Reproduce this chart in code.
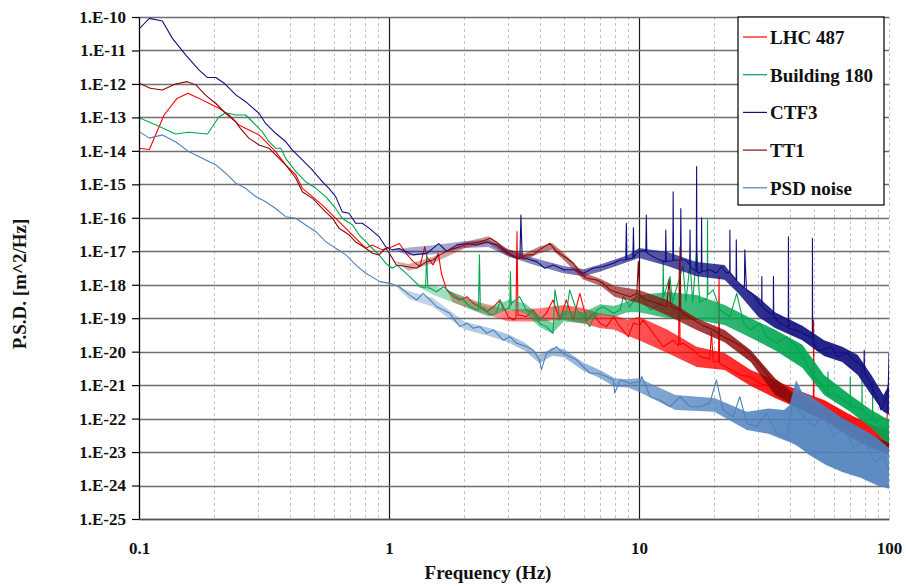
<!DOCTYPE html>
<html>
<head>
<meta charset="utf-8">
<script src="https://cdn.jsdelivr.net/npm/d3@7"></script>
<style>
  body { margin: 0; background: #fff; }
  svg text { font-family: "Liberation Serif", "Times New Roman", serif; font-weight: bold; fill: #111; }
</style>
</head>
<body>
<div id="chart"></div>
<script>
// Series names / colours (legend order = drawing order)
const seriesNames = ["LHC 487", "Building 180", "CTF3", "TT1", "PSD noise"];
const seriesColors = ["#ff0000", "#00a650", "#10107f", "#8a0a0a", "#4f81bd"];

// Axis ticks
const xTicks = [0.1, 1, 10, 100];
const xTickLabels = ["0.1", "1", "10", "100"];
const yTicks = [1e-10, 1e-11, 1e-12, 1e-13, 1e-14, 1e-15, 1e-16, 1e-17, 1e-18, 1e-19, 1e-20, 1e-21, 1e-22, 1e-23, 1e-24, 1e-25];
const yTickLabels = ["1.E-10", "1.E-11", "1.E-12", "1.E-13", "1.E-14", "1.E-15", "1.E-16", "1.E-17",
  "1.E-18", "1.E-19", "1.E-20", "1.E-21", "1.E-22", "1.E-23", "1.E-24", "1.E-25"];

// [frequency Hz, PSD m^2/Hz]
const lhc487 = [[0.1,1.2e-14],[0.11,1.1e-14],[0.126,1.18e-13],[0.142,3.7e-13],[0.157,5.25e-13],[0.174,3.7e-13],[0.191,2.6e-13],[0.209,1.87e-13],[0.229,1.18e-13],[0.251,5.9e-14],[0.275,4.2e-14],[0.302,3e-14],[0.331,1.5e-14],[0.352,9.5e-15],[0.386,3.8e-15],[0.424,1.9e-15],[0.45,7.6e-16],[0.494,4.3e-16],[0.541,2.4e-16],[0.594,1.2e-16],[0.631,7.7e-17],[0.692,3.85e-17],[0.759,1.94e-17],[0.807,1.23e-17],[0.858,1.54e-17],[0.94,1.1e-17],[1.03,1.37e-17],[1.1,1.7e-17],[1.17,8.7e-18],[1.25,4.9e-18],[1.33,3.5e-18],[1.39,1.37e-17],[1.415,6.9e-18],[1.5,3.9e-18],[1.575,8.7e-18],[1.62,2.2e-18],[1.7,7e-19],[1.81,4.4e-19],[1.92,3.5e-19],[2.05,4.4e-19],[2.17,2.8e-19],[2.31,2.2e-19],[2.46,1.56e-19],[2.62,2.2e-19],[2.78,3.5e-19],[3.0,1.1e-19],[3.15,8.8e-20],[3.22,1e-19],[3.25,3.85e-17],[3.28,1.2e-19],[3.33,1.25e-19],[3.54,1.1e-19],[3.77,1.76e-19],[4.0,8.8e-20],[4.26,1.4e-19],[4.53,3.5e-19],[4.82,8.8e-20],[5.12,3.5e-19],[5.45,8.8e-20],[5.8,5.5e-19],[6.18,8.8e-20],[6.56,1.4e-19],[6.98,7.1e-20],[7.42,5.6e-20],[7.9,1.1e-19],[8.4,5.6e-20],[9.06,2.8e-20],[9.5,7.1e-20],[10.1,6.3e-20],[10.4,8.8e-20],[11.4,3.55e-20],[12.5,1.4e-20],[13.7,2.2e-20],[14.4,1.5e-20],[14.5,5e-18],[14.6,1.6e-20],[15.0,1.78e-20],[16.5,1.12e-20],[17.5,7.1e-21],[19.2,6e-21],[19.5,4e-20],[19.8,5e-21],[20.8,5e-21],[20.9,1.75e-18],[21.0,4.5e-21],[23.1,3e-21],[25.3,2e-21],[27.8,1.8e-21],[30.5,1.14e-21],[33.5,9e-22],[36.7,5.7e-22],[40.3,4.5e-22],[44.1,2.9e-22],[48.4,2.27e-22],[49.8,2e-22],[49.9,8.8e-20],[50.1,2e-22],[53.1,1.8e-22],[58.2,1.44e-22],[63.9,7.2e-23],[70,5.75e-23],[76.8,3.65e-23],[84.3,2.3e-23],[92.4,1.83e-23],[97.7,4.6e-23],[100,2e-21]];

const building180 = [[0.1,9.8e-14],[0.117,5.9e-14],[0.14,3.2e-14],[0.158,3.6e-14],[0.188,3.2e-14],[0.209,1.05e-13],[0.222,1.38e-13],[0.244,1.18e-13],[0.267,1.18e-13],[0.293,5.9e-14],[0.311,3.75e-14],[0.331,1.88e-14],[0.352,1.2e-14],[0.369,1.2e-14],[0.386,6e-15],[0.424,2.4e-15],[0.464,1.2e-15],[0.51,7.6e-16],[0.558,4.3e-16],[0.612,1.9e-16],[0.65,9.7e-17],[0.715,6.1e-17],[0.759,3.1e-17],[0.832,1.54e-17],[0.912,7.8e-18],[0.97,4.4e-18],[1.03,3.1e-18],[1.08,3.8e-18],[1.21,1.75e-18],[1.33,8.7e-19],[1.4,8e-19],[1.415,7.8e-18],[1.43,8e-19],[1.46,7.9e-19],[1.55,6.2e-19],[1.65,8.7e-19],[1.75,6.2e-19],[1.86,4.4e-19],[1.98,3.5e-19],[2.11,2.2e-19],[2.24,1.76e-19],[2.28,1.8e-19],[2.3,7.8e-18],[2.32,1.9e-19],[2.39,2e-19],[2.54,1.25e-19],[2.69,1.4e-19],[2.78,3.5e-19],[2.86,1.76e-19],[3.04,2e-19],[3.06,2.46e-18],[3.08,2.5e-19],[3.09,2.8e-19],[3.33,4.4e-19],[3.54,1.76e-19],[3.77,1.4e-19],[4.0,7.1e-20],[4.26,5.6e-20],[4.53,3.55e-20],[4.61,7e-19],[4.82,1.1e-19],[5.12,1.4e-19],[5.28,7e-19],[5.62,1.76e-19],[5.98,1.1e-19],[6.36,5.6e-20],[6.78,1.76e-19],[7.19,2.2e-19],[7.9,1.4e-19],[8.4,1.76e-19],[8.66,4.4e-19],[9.2,2.2e-19],[9.9,5.5e-19],[10.1,4.4e-19],[11.1,1.76e-19],[12.45,3e-19],[12.5,5.5e-18],[12.55,4.4e-19],[13.3,1.75e-18],[13.6,3e-19],[15.0,3.6e-18],[15.4,3e-19],[16.0,4.4e-18],[16.4,3e-19],[17.0,1.1e-17],[17.5,3e-19],[18.75,4e-19],[18.8,8.6e-17],[18.85,5e-19],[19.8,7e-19],[21.1,1.76e-19],[23.1,1.1e-19],[24.6,5.5e-19],[26.2,7.1e-20],[27.8,4.45e-20],[30.5,7.1e-20],[32.4,2.8e-20],[35.5,1.78e-20],[39,2.8e-20],[42.7,1.4e-20],[45.3,7.1e-21],[49.9,1.8e-21],[54.7,9e-22],[56.9,5e-22],[57,2.5e-21],[57.1,5e-22],[59.9,5.7e-22],[65.7,3.6e-22],[69.9,2.5e-22],[70,1.76e-21],[70.1,2.4e-22],[72.1,2.27e-22],[77.9,1.9e-22],[78,4.9e-21],[78.1,1.9e-22],[79,1.8e-22],[85.9,1e-22],[86,1.2e-21],[86.1,9.5e-23],[86.6,9.1e-23],[94.9,5.75e-23],[100,2.3e-23]];

const ctf3 = [[0.1,4.4e-11],[0.11,9.1e-11],[0.124,7.6e-11],[0.136,2.3e-11],[0.154,7.3e-12],[0.174,2.6e-12],[0.188,1.55e-12],[0.203,1.55e-12],[0.219,1.05e-12],[0.244,4.7e-13],[0.267,2.95e-13],[0.302,1.33e-13],[0.321,6.6e-14],[0.352,3.35e-14],[0.386,1.9e-14],[0.41,1.07e-14],[0.45,5.4e-15],[0.493,2.7e-15],[0.541,1.2e-15],[0.575,7.6e-16],[0.612,4.3e-16],[0.65,1.5e-16],[0.692,1.37e-16],[0.736,6.9e-17],[0.782,6.9e-17],[0.832,4.9e-17],[0.912,2.75e-17],[0.97,1.37e-17],[1.03,1.1e-17],[1.1,1.2e-17],[1.25,7.8e-18],[1.42,8.7e-18],[1.58,1.7e-17],[1.7,1.0e-17],[1.87,1.55e-17],[2.05,1.7e-17],[2.24,1.55e-17],[2.46,1.9e-17],[2.7,1.55e-17],[2.96,8.7e-18],[3.24,6.2e-18],[3.34,6.2e-18],[3.37,1.2e-16],[3.41,6.2e-18],[3.5,6.2e-18],[3.9,4.9e-18],[4.2,3.1e-18],[4.54,3.9e-18],[5.0,2.8e-18],[5.5,2.8e-18],[6.0,2.2e-18],[6.55,3.1e-18],[7.2,3.5e-18],[7.9,4.4e-18],[8.4,5.5e-18],[8.85,5.5e-18],[8.9,6.9e-17],[8.95,5.8e-18],[9.45,6.2e-18],[9.5,5e-17],[9.55,6.5e-18],[9.8,8.7e-18],[10.1,1.0e-17],[10.4,1.1e-17],[10.65,1.0e-17],[10.7,1.2e-16],[10.75,9e-18],[11.4,6.9e-18],[12.5,4.9e-18],[12.75,4.9e-18],[12.8,4.3e-17],[12.85,5e-18],[13.65,5.2e-18],[13.7,6e-16],[13.75,5.3e-18],[14.2,5.5e-18],[14.65,5.5e-18],[14.7,1.9e-16],[14.75,5.5e-18],[15.3,5.5e-18],[15.95,4e-18],[16.0,4.3e-17],[16.05,3.5e-18],[16.5,2.8e-18],[16.95,2.6e-18],[17.0,3.4e-15],[17.05,2.5e-18],[17.5,2.2e-18],[17.75,2.4e-18],[17.8,1.0e-16],[17.85,2.5e-18],[19.2,2.8e-18],[20.4,2.2e-18],[21.4,3.5e-18],[22.4,2.2e-18],[23.05,2.4e-18],[23.1,4.3e-17],[23.15,2.3e-18],[24.45,1.4e-18],[24.5,2.2e-17],[24.6,1.3e-18],[26.4,8e-19],[26.5,1.1e-17],[26.9,7e-19],[28.7,5e-19],[30.5,2.5e-19],[30.95,2.4e-19],[31.0,1.75e-18],[31.05,2.2e-19],[32.5,1.6e-19],[33.5,1.4e-19],[34.45,1.3e-19],[34.5,1.75e-18],[34.6,1.1e-19],[36.7,7e-20],[39.0,5.6e-20],[39.55,5.6e-20],[39.6,2.7e-17],[39.7,5e-20],[42.7,4.4e-20],[45.3,3.5e-20],[48.4,2.8e-20],[49.35,2.6e-20],[49.4,2.45e-17],[49.5,2.2e-20],[51.6,1.1e-20],[53.3,1.1e-20],[58.6,1.4e-20],[62,7e-21],[68.1,9e-21],[72.5,5.6e-21],[79.4,3.5e-21],[79.6,1.1e-20],[79.8,2.3e-21],[84.6,1.1e-21],[90,3.6e-22],[93,1.8e-22],[97.4,4.4e-22],[99.4,1.1e-21],[100,9e-21]];

const tt1 = [[0.1,1.05e-12],[0.111,7.4e-13],[0.124,6.6e-13],[0.14,1e-12],[0.156,1.17e-12],[0.169,9.3e-13],[0.184,4.7e-13],[0.203,2.6e-13],[0.222,1.33e-13],[0.244,7.4e-14],[0.251,5.3e-14],[0.275,2.4e-14],[0.302,1.5e-14],[0.331,1.2e-14],[0.352,7.6e-15],[0.386,3.8e-15],[0.424,1.52e-15],[0.45,6e-16],[0.494,3.8e-16],[0.525,2.4e-16],[0.558,1.5e-16],[0.594,9.7e-17],[0.631,4.9e-17],[0.692,3.1e-17],[0.736,1.9e-17],[0.807,1.23e-17],[0.858,8.7e-18],[0.912,7.8e-18],[0.97,1.23e-17],[1.01,8e-18],[1.05,5e-18],[1.07,3.9e-18],[1.17,3.5e-18],[1.29,3.1e-18],[1.415,4.9e-18],[1.5,5.5e-18],[1.595,7.8e-18],[1.75,1.1e-17],[1.92,1.37e-17],[2.11,1.73e-17],[2.31,1.9e-17],[2.54,2.45e-17],[2.69,1.9e-17],[2.86,1.23e-17],[3.09,7.8e-18],[3.33,6.2e-18],[3.54,7.8e-18],[3.77,7.8e-18],[4.0,1.1e-17],[4.4,1.73e-17],[4.68,9.7e-18],[5.14,6.2e-18],[5.47,4.4e-18],[5.81,2.2e-18],[6.18,1.56e-18],[6.78,1.39e-18],[7.19,1.1e-18],[7.66,7e-19],[8.39,5.5e-19],[9.2,4.4e-19],[9.8,5.5e-19],[9.94,4.9e-18],[10.05,5e-19],[10.7,3.5e-19],[11.8,2.8e-19],[12.9,2.2e-19],[13.2,1.4e-18],[13.4,2.2e-19],[14.5,1.8e-19],[14.6,1.37e-17],[14.7,1.6e-19],[15.0,1.4e-19],[16.5,9e-20],[18.1,6e-20],[19.8,4.5e-20],[21.1,3.2e-20],[21.7,2.8e-20],[23.8,2e-20],[26.2,1.3e-20],[28.6,7e-21],[31.4,3e-21],[34.5,1.2e-21],[37.8,6e-22],[41.5,3.6e-22],[45.4,2.6e-22],[49.9,2e-22],[54.7,1.4e-22],[59.9,1e-22],[65.7,6e-23],[72,3.6e-23],[79,2.4e-23],[86.6,2e-23],[94.9,1.2e-23],[100,1.3e-23]];

const psdNoise = [[0.1,3.75e-14],[0.11,2.4e-14],[0.124,3e-14],[0.14,1.88e-14],[0.158,9.5e-15],[0.179,6e-15],[0.203,3.8e-15],[0.222,2.15e-15],[0.244,1.08e-15],[0.267,7.6e-16],[0.293,4.3e-16],[0.321,3e-16],[0.352,1.9e-16],[0.386,1.08e-16],[0.424,9.7e-17],[0.464,6.1e-17],[0.51,3.85e-17],[0.558,1.94e-17],[0.612,1.23e-17],[0.672,7.8e-18],[0.736,3.9e-18],[0.807,2.2e-18],[0.92,1.24e-18],[1.01,1.1e-18],[1.1,8.7e-19],[1.21,4.9e-19],[1.29,3.5e-19],[1.37,5.5e-19],[1.46,3.5e-19],[1.55,2.2e-19],[1.65,1.76e-19],[1.75,1.4e-19],[1.92,5.6e-20],[2.05,7.1e-20],[2.17,5e-20],[2.31,5.6e-20],[2.46,3.55e-20],[2.62,4.45e-20],[2.86,2.2e-20],[3.05,2.8e-20],[3.24,1.78e-20],[3.56,1.4e-20],[3.77,1.12e-20],[4.0,5.7e-21],[4.07,2.85e-21],[4.26,8.9e-21],[4.68,1.4e-20],[4.97,8.9e-21],[5.28,7.1e-21],[5.62,5.7e-21],[5.98,3.6e-21],[6.36,2.27e-21],[6.78,2.27e-21],[7.42,1.8e-21],[7.9,1.43e-21],[8.0,5.7e-22],[8.4,1.43e-21],[9.2,1.14e-21],[10.1,1.27e-21],[10.25,1.8e-21],[11.1,4.5e-22],[12.1,3.6e-22],[13.3,2.27e-22],[14.6,4.5e-22],[16.0,2.27e-22],[17.5,2.27e-22],[19.2,2.9e-22],[20.4,1.43e-21],[21.7,1.8e-22],[23.8,1.14e-22],[25.3,4.5e-22],[27,7.2e-23],[29.5,5.75e-23],[32.4,1.44e-22],[35.5,3.65e-23],[39,2.9e-23],[41.5,3.6e-22],[44.1,1.44e-22],[50,6e-23],[55,1.2e-22],[60,3e-23],[66,5e-23],[72,1.5e-23],[80,2e-23],[88,5e-24],[95,8e-24],[100,3e-24]];

// envelopes of the noisy parts: [frequency, low, high]
const lhc487Band = [[1.7,7e-19,7e-19],[1.8,3e-19,6e-19],[2.3,1.5e-19,3e-19],[3,8e-20,1.8e-19],[4,8e-20,2e-19],[5,9e-20,2.5e-19],[6,7e-20,2e-19],[7,5e-20,1.4e-19],[8,4.5e-20,1.2e-19],[9,3e-20,9e-20],[10,2.2e-20,1.1e-19],[13,9.1e-21,4.5e-20],[17,3.5e-21,1.4e-20],[22,2.85e-21,9.1e-21],[28,9.4e-22,2.85e-21],[35,4.1e-22,1.4e-21],[45,1.8e-22,6.2e-22],[55,9.1e-23,3.6e-22],[70,4e-23,1.3e-22],[85,2e-23,6.5e-23],[100,1.2e-23,4.6e-23]];
const building180Band = [[1.3,9e-19,9e-19],[1.5,5e-19,1e-18],[2,2.2e-19,4.2e-19],[2.5,1.1e-19,2.1e-19],[3,1.8e-19,3.5e-19],[3.5,1.4e-19,2.8e-19],[4,5.5e-20,1.2e-19],[4.5,3.5e-20,7.5e-20],[5,8e-20,1.7e-19],[6,7e-20,1.5e-19],[7,1.3e-19,2.6e-19],[8,1.1e-19,2.3e-19],[9,1.5e-19,3.2e-19],[10,1.5e-19,4.9e-19],[13,1e-19,6.1e-19],[17,8.9e-20,4.9e-19],[22,6.3e-20,2.5e-19],[28,2.6e-20,1e-19],[35,1.1e-20,4.5e-20],[45,3.3e-21,1.6e-20],[55,5.1e-22,2e-21],[70,1.6e-22,5.1e-22],[85,5.2e-23,1.8e-22],[100,1.6e-23,9.1e-23]];
const ctf3Band = [[1.05,1.1e-17,1.1e-17],[1.2,7.5e-18,1.3e-17],[1.5,8e-18,1.5e-17],[2,1.25e-17,2e-17],[2.5,1.35e-17,2.2e-17],[3,7e-18,1.15e-17],[3.5,4.8e-18,7.6e-18],[4,3.5e-18,5.7e-18],[5,2.2e-18,3.6e-18],[6,1.8e-18,2.9e-18],[7,2.5e-18,4e-18],[8,3.5e-18,5.7e-18],[9,4.8e-18,7.6e-18],[10,6.3e-18,1.25e-17],[13,3.6e-18,9.5e-18],[17,1.8e-18,4.8e-18],[22,1.4e-18,3.9e-18],[25,5.5e-19,1.1e-18],[30,1.1e-19,4.3e-19],[35,5.1e-20,1.5e-19],[45,2.2e-20,5.9e-20],[55,7.4e-21,2.2e-20],[65,4.9e-21,1.4e-20],[75,2e-21,8e-21],[85,5.1e-22,2e-21],[95,1.6e-22,5.1e-22],[100,1.3e-22,1e-21]];
const tt1Band = [[1.05,5e-18,5e-18],[1.2,2.6e-18,4.2e-18],[1.5,4.4e-18,6.9e-18],[2,1.2e-17,1.9e-17],[2.5,1.75e-17,2.8e-17],[3,7e-18,1.15e-17],[3.5,5.5e-18,8.8e-18],[4,8.7e-18,1.4e-17],[4.5,1.1e-17,1.75e-17],[5,5.5e-18,8.8e-18],[6,1.4e-18,2.3e-18],[7,9.5e-19,1.5e-18],[8,4.3e-19,9.2e-19],[10,2.85e-19,7e-19],[13,1.2e-19,3.5e-19],[17,4.45e-20,1e-19],[22,1.9e-20,4.45e-20],[28,4.9e-21,1.1e-20],[35,5.1e-22,1.6e-21],[45,1.8e-22,3.6e-22],[55,9.1e-23,2.1e-22],[70,2.8e-23,7.7e-23],[85,1.33e-23,3.2e-23],[100,8.2e-24,1.9e-23]];
const psdNoiseBand = [[1.05,1e-18,1e-18],[1.2,3.8e-19,6.5e-19],[1.5,2.2e-19,4e-19],[2,4.6e-20,8e-20],[2.5,3e-20,5.2e-20],[3,1.9e-20,3.3e-20],[3.5,1.05e-20,1.85e-20],[4,4.5e-21,8e-21],[4.5,7.5e-21,1.3e-20],[5,6.8e-21,1.2e-20],[6,2.7e-21,4.7e-21],[7,1.6e-21,2.8e-21],[8,9e-22,1.6e-21],[9,8.5e-22,1.5e-21],[10,6.2e-22,1.6e-21],[14,1.8e-22,5.1e-22],[20,1.6e-22,4.1e-22],[27,4.6e-23,1.6e-22],[33,3.5e-23,2e-22],[38,2.3e-23,1.8e-22],[40,2e-23,2.5e-22],[42.5,1.6e-23,1.4e-21],[45,1.2e-23,6e-22],[48,8.2e-24,5e-22],[56,4.1e-24,2.2e-22],[65,2.55e-24,1.05e-22],[77,1.7e-24,5.2e-23],[90,1e-24,2.6e-23],[100,8e-25,1.3e-23]];

const seriesLines = [lhc487, building180, ctf3, tt1, psdNoise];
const seriesBands = [lhc487Band, building180Band, ctf3Band, tt1Band, psdNoiseBand];

const width = 906,
  height = 586;
const margin = { top: 17, right: 17, bottom: 67, left: 139 };

const svg = d3
  .select("#chart")
  .append("svg")
  .attr("width", width)
  .attr("height", height);

svg.append("rect").attr("width", width).attr("height", height).attr("fill", "#fff");

const x = d3
  .scaleLog()
  .domain([0.1, 100])
  .range([margin.left, width - margin.right]);

const y = d3
  .scaleLog()
  .domain([1e-25, 1e-10])
  .range([height - margin.bottom, margin.top]);

// Vertical grid (minor dashed, decades solid)
const isDecade = (d) => Math.abs(Math.log10(d) - Math.round(Math.log10(d))) < 1e-9;
svg
  .append("g")
  .selectAll("line")
  .data(x.ticks().filter((d) => d > 0.1))
  .enter()
  .append("line")
  .attr("x1", (d) => Math.round(x(d)) + 0.5)
  .attr("x2", (d) => Math.round(x(d)) + 0.5)
  .attr("y1", margin.top)
  .attr("y2", height - margin.bottom)
  .attr("stroke", (d) => (isDecade(d) && d < 100 ? "#1a1a1a" : "#c4c4c4"))
  .attr("stroke-width", (d) => (isDecade(d) && d < 100 ? 1.2 : 1))
  .attr("stroke-dasharray", (d) => (isDecade(d) && d < 100 ? null : "3,3"));

// Horizontal grid
svg
  .append("g")
  .selectAll("line")
  .data(yTicks)
  .enter()
  .append("line")
  .attr("x1", margin.left)
  .attr("x2", width - margin.right)
  .attr("y1", (d) => Math.round(y(d)) + 0.5)
  .attr("y2", (d) => Math.round(y(d)) + 0.5)
  .attr("stroke", "#6e6e6e")
  .attr("stroke-width", 1.3);

// Clip to plot area + fading fills for the noise envelopes
const defs = svg.append("defs");
defs
  .append("clipPath")
  .attr("id", "plot-clip")
  .append("rect")
  .attr("x", margin.left)
  .attr("y", margin.top)
  .attr("width", width - margin.left - margin.right)
  .attr("height", height - margin.top - margin.bottom);

seriesColors.forEach((c, i) => {
  const g = defs
    .append("linearGradient")
    .attr("id", `fade-${i}`)
    .attr("gradientUnits", "userSpaceOnUse")
    .attr("x1", x(1.5))
    .attr("x2", x(40))
    .attr("y1", 0)
    .attr("y2", 0);
  g.append("stop").attr("offset", 0).attr("stop-color", c).attr("stop-opacity", 0.35);
  g.append("stop").attr("offset", 1).attr("stop-color", c).attr("stop-opacity", 0.92);
});

const plot = svg.append("g").attr("clip-path", "url(#plot-clip)");

const line = d3
  .line()
  .x((d) => x(d[0]))
  .y((d) => y(d[1]));

const band = d3
  .area()
  .x((d) => x(d[0]))
  .y0((d) => y(d[1]))
  .y1((d) => y(d[2]));

seriesLines.forEach((data, i) => {
  plot
    .append("path")
    .datum(seriesBands[i])
    .attr("d", band)
    .attr("fill", `url(#fade-${i})`);

  plot
    .append("path")
    .datum(data)
    .attr("d", line)
    .attr("fill", "none")
    .attr("stroke", seriesColors[i])
    .attr("stroke-width", 1.1)
    .attr("stroke-linejoin", "round");
});

// Y axis
const yAxis = svg
  .append("g")
  .attr("transform", `translate(${margin.left},0)`)
  .call(
    d3
      .axisLeft(y)
      .tickValues(yTicks)
      .tickFormat((d, i) => yTickLabels[i])
      .tickSize(7)
      .tickSizeOuter(0)
      .tickPadding(6)
  );
yAxis.select(".domain").attr("stroke", "#000").attr("stroke-width", 1.3);
yAxis.selectAll(".tick line").attr("stroke", "#000").attr("stroke-width", 1.2);
yAxis.selectAll("text").style("font-size", "17px").attr("fill", "#111");

// X axis
const xAxis = svg
  .append("g")
  .attr("transform", `translate(0,${height - margin.bottom})`)
  .call(
    d3
      .axisBottom(x)
      .tickValues(xTicks)
      .tickFormat((d, i) => xTickLabels[i])
      .tickSize(0)
      .tickSizeOuter(0)
      .tickPadding(23)
  );
xAxis.select(".domain").attr("stroke", "#555").attr("stroke-width", 1.3);
xAxis.selectAll("text").style("font-size", "17px").attr("fill", "#111");

// Axis titles
svg
  .append("text")
  .attr("x", 488)
  .attr("y", 579)
  .attr("text-anchor", "middle")
  .style("font-size", "19px")
  .text("Frequency (Hz)");

svg
  .append("text")
  .attr("transform", "translate(26,284) rotate(-90)")
  .attr("text-anchor", "middle")
  .style("font-size", "19px")
  .text("P.S.D. [m^2/Hz]");

// Legend
const legend = svg.append("g").attr("transform", "translate(738,17)");
legend
  .append("rect")
  .attr("width", 146)
  .attr("height", 188)
  .attr("fill", "#fff")
  .attr("stroke", "#000")
  .attr("stroke-width", 1.2);

seriesNames.forEach((name, i) => {
  const row = legend.append("g").attr("transform", `translate(0,${20 + i * 37.7})`);
  row
    .append("line")
    .attr("x1", 5)
    .attr("x2", 29)
    .attr("stroke", seriesColors[i])
    .attr("stroke-width", 1.2);
  row
    .append("text")
    .attr("x", 32)
    .attr("y", 7)
    .style("font-size", "19px")
    .text(name);
});
</script>
</body>
</html>
